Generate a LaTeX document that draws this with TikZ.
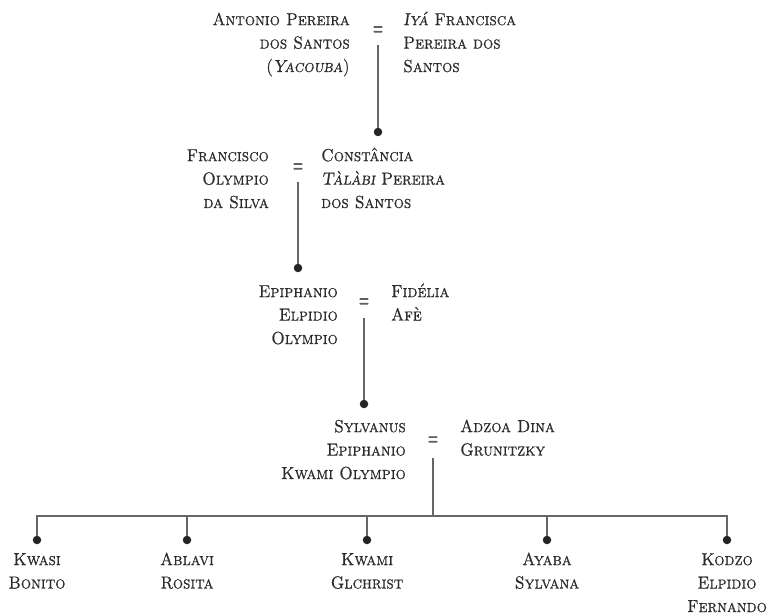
\documentclass[tikz,border=0pt]{standalone}
\usepackage{fontspec}
\newfontfamily\scfont{lmromancaps10-regular.otf}[FakeStretch=0.92, FakeBold=0.6]
\newfontfamily\scifont{lmromancaps10-oblique.otf}[FakeStretch=0.92, FakeBold=0.6]
\newfontfamily\eqfont{lmroman10-regular.otf}[FakeBold=3]
\definecolor{txt}{HTML}{2B2B2B}
\definecolor{ln}{HTML}{666666}
\definecolor{eqc}{HTML}{5E5E5E}
\definecolor{dotc}{HTML}{242424}
\newcommand\isc[1]{{\scifont #1}}
\begin{document}
\begin{tikzpicture}[x=1bp,y=-1bp,
  nm/.style={text=txt, font=\fontsize{17.5}{23.5}\selectfont\scfont, inner sep=0pt},
  lname/.style={nm, align=right, anchor=base east},
  rname/.style={nm, align=left, anchor=base west},
  kid/.style={nm, align=center, anchor=base},
  eqs/.style={text=eqc, font=\fontsize{16}{16}\selectfont\eqfont, inner sep=0pt},
  pdot/.style={circle, fill=dotc, inner sep=0pt, minimum size=8.5bp},
  link/.style={draw=ln, line width=2.4bp},
]
\useasboundingbox (0,0) rectangle (772,614);
% multi-line nodes: base anchor = baseline of the last line

% generation 1
\node[lname] (a1) at (350,72) {Antonio Pereira\\dos Santos\\(\isc{Yacouba})};
\node[eqs] (e1) at (378,31) {\scalebox{0.8}[1.5]{=}};
\node[rname] (b1) at (403,72) {\isc{Iyá} Francisca\\Pereira dos\\Santos};
\coordinate (m1) at (378,45);
\node[pdot] (d1) at (378,132) {};
\draw[link] (m1) -- (d1);

% generation 2
\node[lname] (a2) at (269,208) {Francisco\\Olympio\\da Silva};
\node[eqs] (e2) at (298,168) {\scalebox{0.8}[1.5]{=}};
\node[rname] (b2) at (321,208) {Constância\\\isc{Tàlàbi} Pereira\\dos Santos};
\coordinate (m2) at (298,182);
\node[pdot] (d2) at (298,268) {};
\draw[link] (m2) -- (d2);

% generation 3
\node[lname] (a3) at (338,344) {Epiphanio\\Elpidio\\Olympio};
\node[eqs] (e3) at (364,303) {\scalebox{0.8}[1.5]{=}};
\node[rname] (b3) at (391,320.5) {Fidélia\\Afè};
\coordinate (m3) at (364,318);
\node[pdot] (d3) at (364,404) {};
\draw[link] (m3) -- (d3);

% generation 4
\node[lname] (a4) at (406,479) {Sylvanus\\Epiphanio\\Kwami Olympio};
\node[eqs] (e4) at (433,441) {\scalebox{0.8}[1.5]{=}};
\node[rname] (b4) at (460,455.5) {Adzoa Dina\\Grunitzky};
\coordinate (m4) at (433,458);
\coordinate (bar) at (433,516);

% children
\node[pdot] (c1) at (37,540) {};
\node[pdot] (c2) at (187,540) {};
\node[pdot] (c3) at (367,540) {};
\node[pdot] (c4) at (547,540) {};
\node[pdot] (c5) at (727,540) {};
\draw[link] (m4) -- (bar);
\draw[link, line join=miter] (c1) |- (c5.center |- bar) -- (c5);
\draw[link] (c2) -- (c2 |- bar);
\draw[link] (c3) -- (c3 |- bar);
\draw[link] (c4) -- (c4 |- bar);

\node[kid] (k1) at (37,588.5) {Kwasi\\Bonito};
\node[kid] (k2) at (187,588.5) {Ablavi\\Rosita};
\node[kid] (k3) at (367,588.5) {Kwami\\Glchrist};
\node[kid] (k4) at (547,588.5) {Ayaba\\Sylvana};
\node[kid] (k5) at (727,612) {Kodzo\\Elpidio\\Fernando};
\end{tikzpicture}
\end{document}
